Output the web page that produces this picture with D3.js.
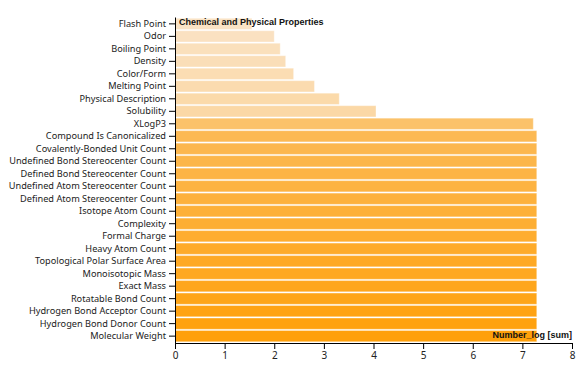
<!DOCTYPE html>
<html>
<head>
<meta charset="utf-8">
<script src="https://cdn.jsdelivr.net/npm/d3@7"></script>
<style>
body { margin: 0; background: #fff; }
svg { display: block; font-family: "Noto Sans", sans-serif; }
.tick text { fill: #222; }
.ttl { font-family: "Liberation Sans", Arial, sans-serif; font-weight: bold; font-size: 9px; fill: #111; }
</style>
</head>
<body>
<svg id="chart" width="581" height="369"></svg>
<script>
const categories = [
  "Flash Point", "Odor", "Boiling Point", "Density", "Color/Form", "Melting Point",
  "Physical Description", "Solubility", "XLogP3", "Compound Is Canonicalized",
  "Covalently-Bonded Unit Count", "Undefined Bond Stereocenter Count",
  "Defined Bond Stereocenter Count", "Undefined Atom Stereocenter Count",
  "Defined Atom Stereocenter Count", "Isotope Atom Count", "Complexity",
  "Formal Charge", "Heavy Atom Count", "Topological Polar Surface Area",
  "Monoisotopic Mass", "Exact Mass", "Rotatable Bond Count",
  "Hydrogen Bond Acceptor Count", "Hydrogen Bond Donor Count", "Molecular Weight"
];
const numberLog = [
  1.55, 2.0, 2.12, 2.23, 2.39, 2.81, 3.31, 4.05, 7.22, 7.29,
  7.29, 7.29, 7.29, 7.29, 7.29, 7.29, 7.29, 7.29, 7.29, 7.29,
  7.29, 7.29, 7.29, 7.29, 7.29, 7.29
];
const xTicks = [0, 1, 2, 3, 4, 5, 6, 7, 8];

const svg = d3.select("#chart");
const m = { top: 17, right: 9, bottom: 26, left: 175 };
const W = 581, H = 369;

const x = d3.scaleLinear().domain([0, 8]).range([m.left, W - m.right]);
const y = d3.scaleBand().domain(categories).range([m.top, H - m.bottom]).padding(0.1);
const color = d3.scaleLinear()
  .domain([0, 7, 8, 9, 25])
  .range(["#fae3c5", "#fbd8a6", "#fbc26a", "#fcb953", "#ffa00a"]);

svg.append("g")
  .selectAll("rect")
  .data(categories)
  .join("rect")
  .attr("x", x(0))
  .attr("y", d => y(d))
  .attr("width", (d, i) => x(numberLog[i]) - x(0))
  .attr("height", y.bandwidth())
  .attr("fill", (d, i) => color(i))
  .attr("stroke", "#fff")
  .attr("stroke-opacity", 0.35)
  .attr("stroke-width", 1);

svg.append("g")
  .attr("transform", `translate(0,${H - m.bottom})`)
  .call(d3.axisBottom(x).tickValues(xTicks).tickFormat(d3.format("d")))
  .call(g => g.selectAll("text").attr("font-size", 10).attr("font-family", "Noto Sans"));

svg.append("g")
  .attr("transform", `translate(${m.left},0)`)
  .call(d3.axisLeft(y).tickSizeOuter(0))
  .call(g => g.selectAll("text").attr("font-size", 9.2).attr("font-family", "Noto Sans"));

svg.append("text").attr("class", "ttl")
  .attr("x", m.left + 4).attr("y", 25)
  .text("Chemical and Physical Properties");

svg.append("text").attr("class", "ttl")
  .attr("x", W - m.right).attr("y", 338)
  .attr("text-anchor", "end")
  .text("Number_log [sum]");
</script>
</body>
</html>
